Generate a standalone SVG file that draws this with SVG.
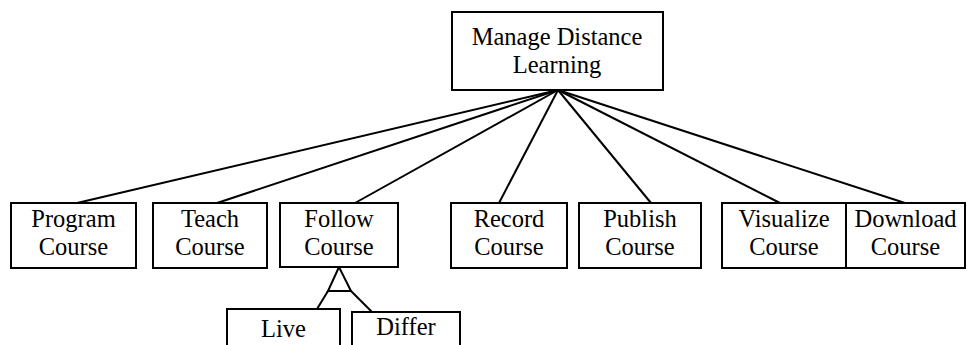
<svg xmlns="http://www.w3.org/2000/svg" width="967" height="345" viewBox="0 0 967 345">
<style>
.box{fill:#fff;stroke:#000;stroke-width:2}
.t{font-family:"Liberation Serif","Times New Roman",serif;font-size:24.5px;fill:#000;text-anchor:middle}
.c{stroke:#000;stroke-width:2;fill:none}
</style>
<rect width="967" height="345" fill="#fff"/>
<g id="connectors">
<line class="c" x1="558" y1="90" x2="77" y2="203"/>
<line class="c" x1="558" y1="90" x2="217" y2="203"/>
<line class="c" x1="558" y1="90" x2="355" y2="203"/>
<line class="c" x1="558" y1="90" x2="499" y2="203"/>
<line class="c" x1="558" y1="90" x2="651" y2="203"/>
<line class="c" x1="558" y1="90" x2="780" y2="203"/>
<line class="c" x1="558" y1="90" x2="905" y2="203"/>
<polygon class="c" points="339,267 328,291 351,291"/>
<line class="c" x1="328" y1="291" x2="317" y2="309"/>
<line class="c" x1="351" y1="291" x2="372" y2="312"/>
</g>
<g id="manage">
<rect class="box" x="452" y="12" width="211" height="78"/>
<text class="t" x="557" y="45">Manage Distance</text>
<text class="t" x="557" y="73">Learning</text>
</g>
<g id="program">
<rect class="box" x="11" y="203" width="125" height="65"/>
<text class="t" x="73.5" y="227">Program</text>
<text class="t" x="73.5" y="255">Course</text>
</g>
<g id="teach">
<rect class="box" x="153" y="203" width="114" height="65"/>
<text class="t" x="210" y="227">Teach</text>
<text class="t" x="210" y="255">Course</text>
</g>
<g id="follow">
<rect class="box" x="280" y="203" width="118" height="64"/>
<text class="t" x="339" y="227">Follow</text>
<text class="t" x="339" y="255">Course</text>
</g>
<g id="record">
<rect class="box" x="451" y="203" width="116" height="65"/>
<text class="t" x="509" y="227">Record</text>
<text class="t" x="509" y="255">Course</text>
</g>
<g id="publish">
<rect class="box" x="579" y="203" width="122" height="65"/>
<text class="t" x="640" y="227">Publish</text>
<text class="t" x="640" y="255">Course</text>
</g>
<g id="visualize">
<rect class="box" x="722" y="203" width="124" height="65"/>
<text class="t" x="784" y="227">Visualize</text>
<text class="t" x="784" y="255">Course</text>
</g>
<g id="download">
<rect class="box" x="846" y="203" width="119" height="65"/>
<text class="t" x="905.5" y="227">Download</text>
<text class="t" x="905.5" y="255">Course</text>
</g>
<g id="live">
<rect class="box" x="227" y="309" width="113" height="60"/>
<text class="t" x="283.5" y="337">Live</text>
</g>
<g id="differ">
<rect class="box" x="352" y="312" width="108" height="60"/>
<text class="t" x="406" y="335">Differ</text>
</g>
</svg>
